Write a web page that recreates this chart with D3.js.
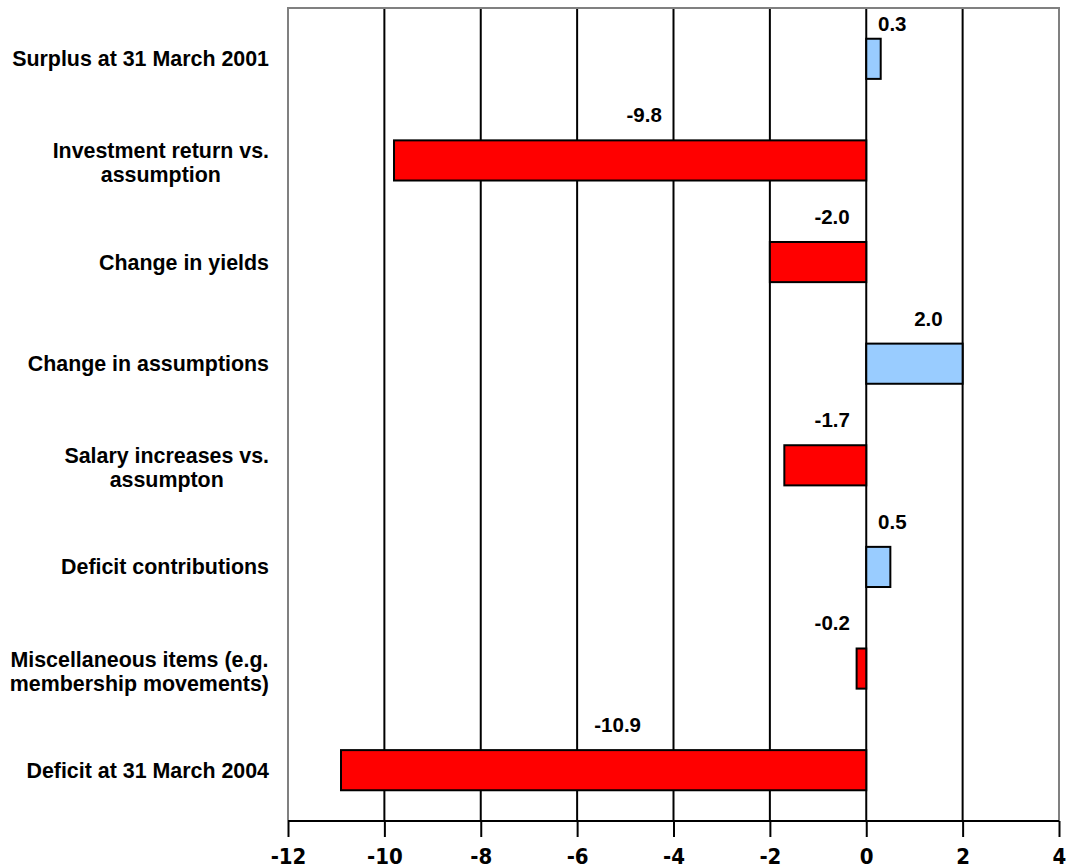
<!DOCTYPE html>
<html>
<head>
<meta charset="utf-8">
<script src="https://cdn.jsdelivr.net/npm/d3@7"></script>
<style>
  body { margin: 0; background: #fff; }
  svg { display: block; }
  .cat { font-family: "Liberation Sans", Arial, sans-serif; font-weight: bold; font-size: 21.4px; fill: #000; }
  .val { font-family: "Liberation Sans", Arial, sans-serif; font-weight: bold; font-size: 20.5px; fill: #000; }
  .tick text { font-family: "Liberation Sans Narrow", "Arial Narrow", "DejaVu Sans Condensed", sans-serif; font-weight: bold; font-size: 22px; fill: #000; }
</style>
</head>
<body>
<div id="chart"></div>
<script>
// items in the analysis of change, top to bottom
const categories = [
  "Surplus at 31 March 2001",
  "Investment return vs.|assumption",
  "Change in yields",
  "Change in assumptions",
  "Salary increases vs.|assumpton",
  "Deficit contributions",
  "Miscellaneous items (e.g.|membership movements)",
  "Deficit at 31 March 2004"
];
const values = [0.3, -9.8, -2.0, 2.0, -1.7, 0.5, -0.2, -10.9];
const valueLabels = ["0.3", "-9.8", "-2.0", "2.0", "-1.7", "0.5", "-0.2", "-10.9"];
const xTicks = [-12, -10, -8, -6, -4, -2, 0, 2, 4];

const width = 1066;
const height = 868;
const plot = { left: 288, right: 1059, top: 8, bottom: 821 };

const svg = d3.select("#chart")
    .append("svg")
    .attr("width", width)
    .attr("height", height);

const x = d3.scaleLinear().domain([-12, 4]).range([plot.left, plot.right]);
const y = d3.scaleBand()
    .domain(d3.range(categories.length))
    .range([plot.top, plot.bottom])
    .paddingInner(0.605)
    .paddingOuter(0.3025);

// vertical gridlines (inner ones only, the outer ones are the frame)
svg.append("g")
    .selectAll("line")
    .data(xTicks.slice(1, -1))
    .join("line")
    .attr("x1", d => x(d)).attr("x2", d => x(d))
    .attr("y1", plot.top).attr("y2", plot.bottom)
    .attr("stroke", "#000")
    .attr("stroke-width", 2);

// grey frame: left, top, right
svg.append("path")
    .attr("d", `M${plot.left},${plot.bottom} V${plot.top} H${plot.right} V${plot.bottom}`)
    .attr("fill", "none")
    .attr("stroke", "#808080")
    .attr("stroke-width", 2);

// bars
svg.append("g")
    .selectAll("rect")
    .data(values)
    .join("rect")
    .attr("x", d => x(Math.min(0, d)))
    .attr("width", d => Math.abs(x(d) - x(0)))
    .attr("y", (d, i) => y(i))
    .attr("height", y.bandwidth())
    .attr("fill", d => d < 0 ? "#ff0000" : "#99ccff")
    .attr("stroke", "#000")
    .attr("stroke-width", 2);

// value labels above the bars
svg.append("g")
    .selectAll("text")
    .data(values)
    .join("text")
    .attr("class", "val")
    .attr("text-anchor", "middle")
    .attr("x", d => {
        const c = x(d / 2) + 14;
        return d < 0 ? Math.min(c, x(0) - 34) : Math.max(c, x(0) + 26);
    })
    .attr("y", (d, i) => Math.max(y(i) - 18, plot.top + 23))
    .text((d, i) => valueLabels[i]);

// category labels, block right aligned, lines centred
const catG = svg.append("g");
categories.forEach((c, i) => {
    const lines = c.split("|");
    const cy = y(i) + y.bandwidth() / 2;
    const shift = lines.length > 1 ? 2.5 : 0;
    const t = catG.append("text")
        .attr("class", "cat")
        .attr("text-anchor", "middle");
    lines.forEach((ln, j) => {
        t.append("tspan")
            .attr("y", cy + 7.5 + shift + (j - (lines.length - 1) / 2) * 24)
            .text(ln);
    });
    const spans = t.selectAll("tspan").nodes();
    const w = d3.max(spans, s => s.getComputedTextLength());
    t.selectAll("tspan").attr("x", 269 - w / 2);
});

// x axis
const axis = svg.append("g")
    .attr("transform", `translate(0,${plot.bottom})`)
    .call(d3.axisBottom(x)
        .tickValues(xTicks)
        .tickSize(16)
        .tickPadding(11)
        .tickFormat(d3.format("d")));
axis.select(".domain")
    .attr("d", `M${plot.left},0H${plot.right}`)
    .attr("stroke", "#000")
    .attr("stroke-width", 2);
axis.selectAll(".tick line").attr("stroke", "#000").attr("stroke-width", 2);
axis.selectAll(".tick text").text(d => d < 0 ? "-" + Math.abs(d) : d);
</script>
</body>
</html>
